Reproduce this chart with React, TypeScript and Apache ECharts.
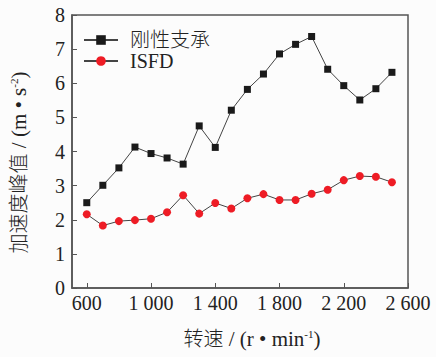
import React, { useEffect, useRef } from "react";
import * as echarts from "echarts";

const speeds = [600, 700, 800, 900, 1000, 1100, 1200, 1300, 1400, 1500, 1600, 1700, 1800, 1900, 2000, 2100, 2200, 2300, 2400, 2500];
const rigid = [2.5, 3.01, 3.52, 4.13, 3.94, 3.81, 3.63, 4.75, 4.12, 5.21, 5.82, 6.27, 6.86, 7.14, 7.37, 6.41, 5.93, 5.51, 5.84, 6.32];
const isfd = [2.16, 1.83, 1.96, 1.99, 2.03, 2.22, 2.72, 2.18, 2.49, 2.33, 2.63, 2.75, 2.58, 2.58, 2.76, 2.88, 3.16, 3.28, 3.26, 3.1];
const xTicks = [600, 1000, 1400, 1800, 2200, 2600];
const seriesNames = ["刚性支承", "ISFD"];

const FONT = "Liberation Serif, Noto Sans CJK SC, serif";

export default function App() {
  const ref = useRef<HTMLDivElement>(null);
  useEffect(() => {
    if (!ref.current) return;
    const chart = echarts.init(ref.current, undefined, { renderer: "svg" });
    const fmt = (v: number) => {
      const s = String(v);
      return s.length > 3 ? s.slice(0, s.length - 3) + " " + s.slice(-3) : s;
    };
    const rich = {
      c: { fontSize: 20, fontFamily: FONT, color: "#222", fontWeight: 300 },
      a: { fontSize: 21, fontFamily: FONT, color: "#222" },
      s: { fontSize: 11, fontFamily: FONT, color: "#222", padding: [0, 0, 11, 0] },
    };
    chart.setOption({
      animation: false,
      backgroundColor: "#fcfcfc",
      textStyle: { fontFamily: FONT, color: "#222" },
      grid: {
        left: 68, top: 15, right: 28, bottom: 69,
        show: true, borderColor: "#555", borderWidth: 1.5, backgroundColor: "transparent",
      },
      legend: {
        orient: "vertical", left: 83, top: 30, padding: 0, itemWidth: 34, itemHeight: 12, itemGap: 1,
        textStyle: { fontFamily: FONT, fontSize: 20, color: "#222", padding: [0, 0, 0, 7], fontWeight: 300 },
        data: seriesNames,
      },
      xAxis: {
        type: "value", min: 508, max: 2600,
        axisLine: { show: true, lineStyle: { color: "#555", width: 1.5 } },
        axisTick: { show: true, inside: true, length: 5, lineStyle: { color: "#555" }, customValues: xTicks },
        axisLabel: { customValues: xTicks, formatter: fmt, fontSize: 20, color: "#222", fontFamily: FONT, margin: 5 },
        splitLine: { show: false },
        name: "{c|转速}{a| / (r • min}{s|-1}{a|)}",
        nameLocation: "middle", nameGap: 40,
        nameTextStyle: { rich, padding: [0, 0, 0, 24] },
      },
      yAxis: {
        type: "value", min: 0, max: 8, interval: 1,
        axisLine: { show: true, lineStyle: { color: "#555", width: 1.5 } },
        axisTick: { show: true, inside: true, length: 5, lineStyle: { color: "#555" } },
        axisLabel: { fontSize: 20, color: "#222", fontFamily: FONT, margin: 7 },
        splitLine: { show: false },
        name: "{c|加速度峰值}{a| / (m • s}{s|-2}{a|)}",
        nameLocation: "middle", nameGap: 42,
        nameTextStyle: { rich, padding: [0, 22, 0, 0] },
      },
      series: [
        {
          name: seriesNames[0], type: "line",
          data: speeds.map((s, i) => [s, rigid[i]]),
          symbol: "rect", symbolSize: 7,
          itemStyle: { color: "#1a1a1a" },
          lineStyle: { color: "#444", width: 1 },
        },
        {
          name: seriesNames[1], type: "line",
          data: speeds.map((s, i) => [s, isfd[i]]),
          symbol: "circle", symbolSize: 8,
          itemStyle: { color: "#ee1c25" },
          lineStyle: { color: "#444", width: 1 },
        },
      ],
    });
    return () => chart.dispose();
  }, []);
  return <div ref={ref} style={{ position: "absolute", left: 0, top: 0, width: 436, height: 357 }} />;
}
